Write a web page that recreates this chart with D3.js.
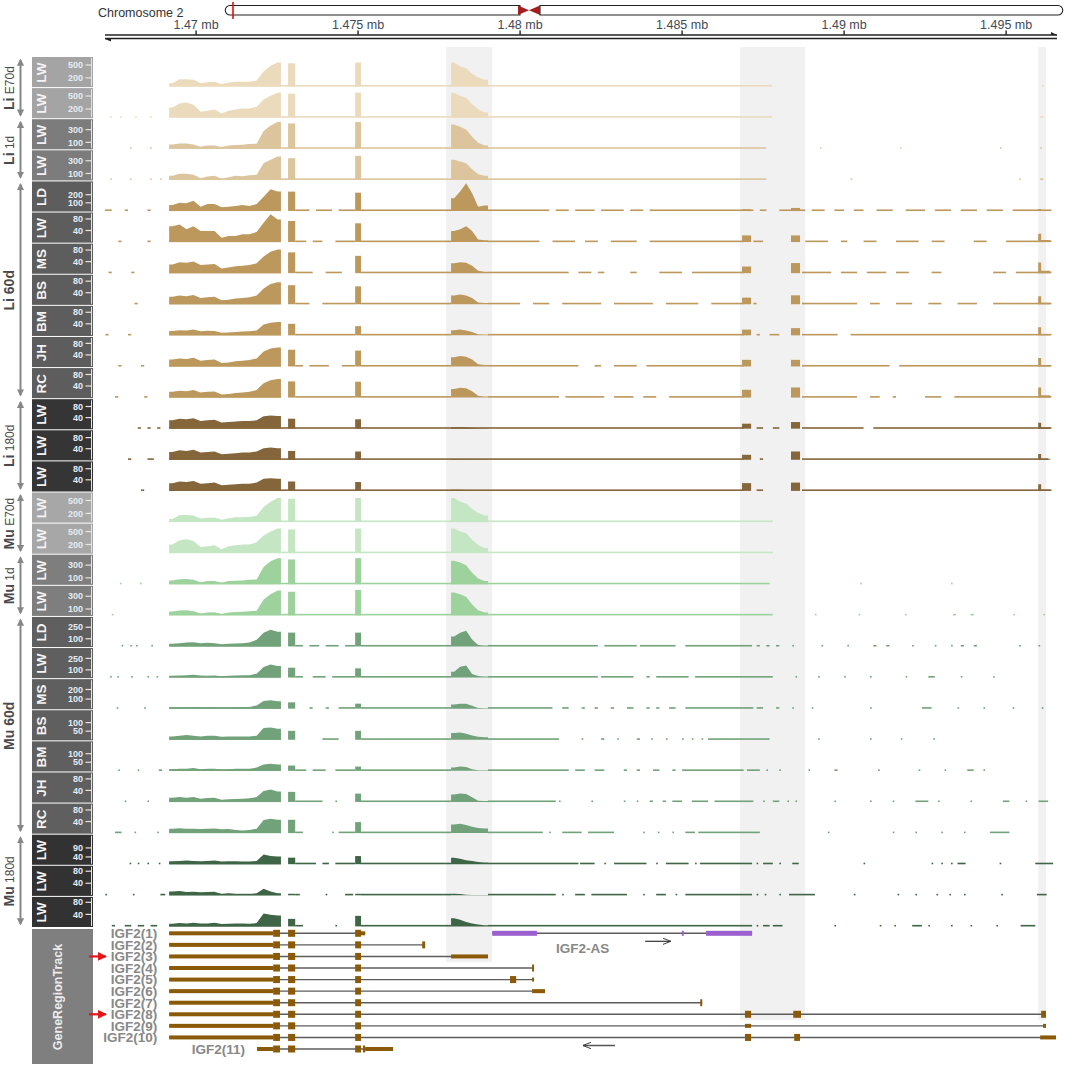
<!DOCTYPE html>
<html>
<head>
<meta charset="utf-8">
<script src="https://cdn.jsdelivr.net/npm/d3@7"></script>
<style>
  body { margin: 0; background: #fff; }
  svg { display: block; font-family: "Liberation Sans", Arial, sans-serif; }
</style>
</head>
<body>
<svg id="chart" width="1065" height="1073"></svg>
<script>
// ---- data (positions in kb on chromosome 2) ----
const viewRange = [1467.19, 1496.57];
const axisTicks = [1470, 1475, 1480, 1485, 1490, 1495];
const axisLabels = ["1.47 mb", "1.475 mb", "1.48 mb", "1.485 mb", "1.49 mb", "1.495 mb"];
const highlights = [[1477.72, 1479.14], [1486.79, 1488.80], [1495.99, 1496.23]];

const groupNames = [["Li", "E70d"], ["Li", "1d"], ["Li", "60d"], ["Li", "180d"],
                    ["Mu", "E70d"], ["Mu", "1d"], ["Mu", "60d"], ["Mu", "180d"]];
const trackLabels = ["LW","LW","LW","LW","LD","LW","MS","BS","BM","JH","RC","LW","LW","LW",
                     "LW","LW","LW","LW","LD","LW","MS","BS","BM","JH","RC","LW","LW","LW"];
const trackGroup = [0,0,1,1,2,2,2,2,2,2,2,3,3,3,4,4,5,5,6,6,6,6,6,6,6,7,7,7];
const trackMax = [650,650,440,440,345,97,97,97,97,97,97,101,101,101,
                  650,650,440,440,365,365,292,163,163,97,97,155,93,93];
const trackTicks = [[500,200],[500,200],[300,100],[300,100],[200,100],[80,40],[80,40],[80,40],[80,40],[80,40],[80,40],[80,40],[80,40],[80,40],
                    [500,200],[500,200],[300,100],[300,100],[250,100],[250,100],[200,100],[100,50],[100,50],[80,40],[80,40],[90,40],[80,40],[80,40]];

// coverage bins
const exon1Edges = [1469.17,1469.38,1469.60,1469.81,1470.03,1470.25,1470.46,1470.68,1470.90,
                    1471.11,1471.33,1471.54,1471.76,1471.98,1472.19,1472.41,1472.62];
const exon2Edges = [1472.84, 1473.06];
const exon3Edges = [1474.91, 1475.09];
const exon4Edges = [1477.87,1478.06,1478.24,1478.43,1478.61,1478.80,1479.01];
const exonEEdges = [1486.85, 1487.13];
const exonFEdges = [1488.36, 1488.64];
const exonGEdges = [1495.99, 1496.08, 1496.36];

const covExon1 = [
  [77,170,170,155,77,100,108,54,92,108,108,108,140,348,480,557],
  [232,325,348,300,139,162,186,93,162,186,209,209,255,418,510,580],
  [68,84,84,68,31,52,52,26,52,58,63,73,78,278,366,419],
  [63,94,94,78,26,52,63,16,42,63,58,73,78,262,314,366],
  [74,102,94,127,53,86,86,45,53,62,74,62,86,176,266,238],
  [55,61,44,55,38,38,38,15,21,21,27,27,35,67,96,78],
  [30,38,36,40,28,30,32,16,20,24,26,28,34,58,74,82],
  [26,30,28,32,22,24,26,14,16,20,22,24,30,55,70,76],
  [15,18,17,20,14,16,15,9,10,12,13,14,17,38,44,46],
  [24,28,26,30,20,22,24,12,14,18,20,22,28,52,62,66],
  [20,24,22,26,18,20,21,11,12,16,18,20,26,50,60,64],
  [30,36,34,38,28,30,32,22,24,26,28,28,30,45,48,46],
  [28,34,32,36,26,28,30,20,22,24,26,26,30,42,44,42],
  [28,34,32,36,26,28,30,20,22,24,26,26,30,44,46,44],
  [70,160,165,150,80,100,105,55,90,110,110,115,145,350,470,560],
  [200,300,320,280,140,160,180,90,160,180,200,200,250,410,500,570],
  [60,80,82,70,30,50,50,25,50,56,60,70,76,270,360,410],
  [60,75,78,66,28,45,48,22,45,52,58,66,72,250,330,390],
  [35,42,51,55,42,47,42,29,35,38,42,51,86,180,218,192],
  [22,26,29,35,26,22,26,17,22,26,29,29,51,137,171,150],
  [14,14,14,18,14,14,18,10,14,14,18,18,34,80,87,76],
  [19,23,27,23,19,23,23,17,19,19,19,19,23,68,71,64],
  [10,12,13,16,10,12,12,8,10,12,13,13,19,37,41,37],
  [15,17,15,17,11,14,15,8,9,10,11,13,17,38,43,36],
  [15,17,15,15,14,15,16,13,14,11,9,11,15,45,50,46],
  [16,18,20,18,16,18,20,15,16,16,15,15,18,54,45,43],
  [13,14,11,12,10,11,12,4,7,4,3,3,7,22,13,7],
  [9,11,10,12,10,10,12,8,9,10,10,9,11,43,39,36]
];
const covExon2 = [540,557,397,340,238,73,72,66,40,58,56,36,32,34,540,550,390,370,180,128,66,52,31,35,46,36,5,25];
const covExon3 = [557,580,419,377,225,65,60,62,32,55,55,34,30,32,560,570,410,400,180,120,52,52,25,29,38,45,5,35];
const covExon4 = [
  [557,464,425,294,209,155], [580,503,464,309,193,116], [382,345,303,188,94,52], [314,288,262,168,89,63],
  [156,238,340,217,53,66], [38,44,55,38,9,6], [34,38,36,26,8,5], [30,34,30,22,6,4],
  [18,20,17,12,4,3], [32,36,34,24,8,5], [30,34,32,22,6,4], [5,6,5,3,2,1],
  [3,3,2,2,1,1], [4,4,3,2,1,1], [560,470,430,300,210,150], [570,500,460,310,190,120],
  [370,340,300,180,90,50], [360,330,290,170,80,45], [128,180,205,90,19,13], [77,141,158,47,19,13],
  [42,52,50,30,8,5], [40,42,35,25,17,15], [20,25,22,10,4,3], [26,29,28,16,4,3],
  [30,32,28,22,18,16], [36,30,22,18,12,10], [5,4,2,1,1,1], [27,22,15,10,6,4]
];
// [exon E, exon F, exon G peak, exon G tail]
const covRight = [
  [0,0,0,0],[0,0,0,0],[0,0,0,0],[0,0,0,0],
  [20,37,25,5],[23,23,29,7],[23,35,37,8],[23,31,28,5],[20,25,28,5],[23,23,29,5],[27,35,35,8],
  [18,24,21,4],[18,30,21,4],[28,30,24,5],
  [0,0,0,0],[0,0,0,0],[0,0,0,0],[0,0,0,0],[0,0,0,0],[0,0,0,0],[0,0,0,0],
  [0,0,0,0],[0,0,0,0],[0,0,0,0],[0,0,0,0],[0,0,0,0],[0,0,0,0],[0,0,0,0]
];
// stretches with only a few reads (drawn as a thin baseline)
const lowCov = [
  [[1469.17,1487.78],[1496.1,1496.16]],
  [[1467.35,1467.4],[1467.65,1467.7],[1468.12,1468.17],[1468.58,1468.63],[1469.17,1487.78],[1496.05,1496.15]],
  [[1467.96,1468.01],[1468.58,1468.63],[1469.17,1487.6],[1489.26,1489.3],[1491.73,1491.77],[1494.81,1494.86],[1496.05,1496.1]],
  [[1467.35,1467.4],[1467.96,1468.01],[1468.58,1468.63],[1468.89,1468.94],[1469.17,1487.6],[1490.2,1490.25],[1495.4,1495.45],[1496.05,1496.15]],
  [[1467.19,1467.4],[1467.8,1467.9],[1468.5,1468.6],[1469.17,1472.62],[1473.06,1473.5],[1473.7,1474.2],[1474.4,1474.91],[1475.09,1477.87],
   [1479.01,1480.9],[1481.1,1481.5],[1481.7,1482.3],[1482.5,1483.2],[1483.4,1483.8],[1484.0,1487.2],[1487.4,1487.6],[1488.0,1488.8],
   [1489.0,1489.4],[1489.7,1490.0],[1490.3,1490.6],[1491.0,1491.5],[1491.9,1492.5],[1492.8,1493.3],[1493.6,1494.1],[1494.4,1494.9],[1495.2,1496.4]],
  [[1467.6,1467.7],[1468.5,1468.6],[1469.17,1472.62],[1473.06,1473.4],[1473.6,1473.9],[1474.3,1474.91],[1475.09,1477.87],[1479.01,1480.6],
   [1481.0,1481.7],[1482.0,1482.4],[1482.8,1483.6],[1484.0,1486.9],[1487.2,1487.5],[1488.8,1489.5],[1489.9,1490.1],[1490.6,1491.0],
   [1491.6,1492.3],[1492.7,1493.1],[1494.0,1494.4],[1495.0,1496.4]],
  [[1467.3,1467.4],[1468.0,1468.1],[1469.17,1472.62],[1473.06,1473.6],[1474.0,1474.5],[1475.09,1477.87],[1479.01,1481.5],[1481.8,1482.2],
   [1482.4,1482.6],[1483.4,1483.6],[1484.3,1485.0],[1485.3,1486.9],[1488.7,1489.6],[1489.9,1490.4],[1490.7,1491.3],[1491.6,1492.0],
   [1492.7,1493.0],[1494.6,1495.0],[1495.3,1496.4]],
  [[1468.1,1468.2],[1469.17,1472.62],[1473.06,1473.5],[1473.9,1474.91],[1475.09,1477.87],[1479.01,1480.0],[1480.4,1480.9],[1481.3,1482.5],
   [1482.9,1484.1],[1484.5,1485.5],[1485.9,1486.9],[1487.2,1487.3],[1488.7,1490.4],[1490.8,1491.1],[1491.6,1492.1],[1492.6,1493.0],
   [1493.5,1494.1],[1494.6,1496.4]],
  [[1467.2,1467.3],[1467.9,1468.0],[1469.17,1472.62],[1473.06,1474.91],[1475.09,1477.87],[1479.01,1486.9],[1487.3,1487.4],[1487.7,1488.0],
   [1488.7,1489.8],[1490.2,1496.4]],
  [[1467.6,1467.7],[1468.3,1468.4],[1469.17,1472.62],[1473.06,1473.3],[1473.5,1474.1],[1474.5,1474.91],[1475.09,1477.87],[1479.01,1481.8],
   [1482.3,1482.5],[1482.9,1483.6],[1483.9,1486.9],[1488.7,1491.4],[1491.7,1496.4]],
  [[1467.5,1467.6],[1468.4,1468.5],[1469.17,1472.62],[1473.06,1474.91],[1475.09,1477.87],[1479.01,1481.2],[1481.4,1482.6],[1482.9,1483.5],
   [1483.8,1484.2],[1484.6,1486.9],[1488.7,1490.4],[1490.8,1491.1],[1491.5,1491.6],[1492.5,1493.0],[1493.4,1496.4]],
  [[1468.2,1468.3],[1468.5,1468.6],[1468.8,1468.9],[1469.17,1486.9],[1487.3,1487.5],[1487.8,1488.0],[1488.7,1490.6],[1490.9,1496.4]],
  [[1467.9,1468.0],[1468.5,1468.7],[1469.17,1486.9],[1487.4,1487.5],[1488.7,1496.3]],
  [[1468.3,1468.4],[1469.17,1486.9],[1487.3,1487.5],[1488.7,1496.4]],
  [[1469.17,1487.8]],
  [[1469.17,1487.8]],
  [[1467.65,1467.7],[1468.27,1468.32],[1469.17,1487.7],[1490.5,1490.55],[1493.3,1493.35]],
  [[1467.4,1467.45],[1469.17,1487.8],[1489.1,1489.15],[1490.45,1490.5],[1491.88,1491.93],[1493.36,1493.45],[1493.9,1494.0],[1495.22,1495.27],[1496.15,1496.2]],
  [[1467.7,1467.75],[1467.97,1468.02],[1468.15,1468.2],[1468.62,1468.67],[1469.17,1472.62],[1473.06,1473.3],[1473.5,1473.8],[1474.0,1474.4],
   [1474.6,1474.91],[1475.09,1477.87],[1479.01,1482.4],[1482.6,1483.6],[1483.7,1484.8],[1485.1,1487.16],[1487.3,1487.4],[1487.6,1487.7],
   [1487.9,1488.0],[1488.4,1488.45],[1489.3,1489.35],[1490.1,1490.15],[1490.9,1491.0],[1491.3,1491.4],[1492.1,1492.15],[1492.8,1492.85],
   [1493.3,1493.35],[1493.6,1493.7],[1494.0,1494.1],[1495.4,1495.45],[1496.0,1496.05]],
  [[1467.35,1467.4],[1467.57,1467.62],[1468.0,1468.05],[1468.5,1468.55],[1468.78,1468.83],[1469.17,1472.62],[1473.06,1473.3],[1473.6,1474.0],
   [1474.2,1474.91],[1475.09,1477.87],[1479.01,1482.4],[1482.5,1483.5],[1483.9,1484.0],[1484.2,1485.2],[1485.4,1487.8],[1488.5,1488.55],
   [1489.2,1489.25],[1490.0,1490.05],[1490.8,1490.85],[1491.9,1491.95],[1492.6,1492.8],[1493.6,1493.65],[1494.6,1494.65]],
  [[1467.55,1467.6],[1468.4,1468.45],[1469.17,1472.62],[1473.5,1473.6],[1474.0,1474.1],[1474.4,1474.91],[1475.09,1477.87],[1479.01,1481.0],
   [1481.3,1481.5],[1481.9,1482.0],[1482.3,1482.4],[1482.8,1482.9],[1483.3,1483.5],[1483.9,1484.0],[1484.2,1484.3],[1484.6,1484.8],
   [1485.1,1487.2],[1487.3,1487.5],[1487.9,1488.0],[1488.4,1488.45],[1489.0,1489.05],[1490.8,1490.85],[1492.4,1492.7],[1493.5,1493.55],
   [1494.3,1494.35],[1495.2,1495.25],[1496.1,1496.15]],
  [[1469.17,1472.62],[1473.9,1474.4],[1475.09,1477.87],[1479.01,1481.2],[1481.9,1481.95],[1482.5,1482.6],[1483.0,1483.05],[1483.6,1483.7],
   [1484.05,1484.1],[1484.5,1484.55],[1485.0,1485.05],[1485.3,1485.35],[1485.6,1485.65],[1485.8,1487.7],[1489.2,1489.25],[1490.8,1490.85],
   [1491.75,1491.8],[1492.75,1492.8]],
  [[1467.6,1467.65],[1468.2,1468.25],[1468.85,1468.95],[1469.17,1472.62],[1473.06,1473.4],[1473.6,1474.0],[1474.3,1474.91],[1475.09,1477.87],
   [1479.01,1481.5],[1481.7,1482.0],[1482.3,1482.6],[1483.2,1483.3],[1483.6,1483.7],[1484.1,1484.3],[1484.7,1484.8],[1485.0,1486.9],
   [1487.0,1487.4],[1487.6,1487.65],[1488.0,1488.05],[1488.9,1488.95],[1489.7,1489.8],[1491.05,1491.1],[1492.3,1492.35],[1493.1,1493.15],
   [1493.8,1494.0],[1494.3,1494.35]],
  [[1467.8,1467.85],[1468.5,1468.55],[1469.17,1472.62],[1473.06,1473.9],[1474.3,1474.35],[1475.09,1477.87],[1479.01,1481.1],[1481.2,1481.25],
   [1482.2,1482.25],[1483.2,1483.25],[1483.6,1483.65],[1484.0,1484.1],[1484.4,1484.5],[1484.7,1485.0],[1485.3,1485.8],[1486.0,1487.2],
   [1487.5,1487.55],[1487.8,1488.0],[1488.25,1488.3],[1488.5,1488.55],[1489.7,1489.75],[1490.8,1490.85],[1491.5,1491.55],[1492.2,1492.6],
   [1492.9,1492.95],[1493.9,1493.95],[1494.9,1495.1],[1495.6,1495.65],[1496.0,1496.3]],
  [[1467.5,1467.7],[1468.1,1468.15],[1468.8,1468.85],[1469.17,1472.62],[1473.06,1473.3],[1474.2,1474.25],[1474.4,1474.91],[1475.09,1477.87],
   [1479.01,1480.7],[1480.9,1480.95],[1481.3,1481.9],[1482.1,1482.9],[1483.8,1483.85],[1484.25,1484.3],[1484.7,1484.75],[1485.1,1485.4],
   [1485.5,1487.4],[1489.5,1489.55],[1491.5,1491.55],[1492.2,1492.25],[1493.0,1493.05],[1493.7,1493.75],[1494.5,1495.1]],
  [[1467.95,1468.0],[1468.2,1468.25],[1468.5,1468.55],[1468.85,1468.9],[1469.17,1472.62],[1473.06,1473.7],[1473.9,1474.1],[1474.3,1474.91],
   [1475.09,1477.87],[1479.01,1481.8],[1481.85,1482.3],[1482.6,1482.65],[1482.9,1483.9],[1484.2,1484.25],[1484.5,1485.2],[1485.4,1485.45],
   [1485.55,1487.16],[1487.3,1487.35],[1487.5,1487.8],[1488.0,1488.05],[1488.4,1488.6],[1490.6,1490.65],[1492.7,1492.75],[1493.0,1493.05],
   [1493.3,1493.35],[1493.5,1493.75],[1494.8,1494.85],[1495.9,1496.45]],
  [[1467.2,1467.25],[1468.05,1468.1],[1468.9,1469.05],[1469.17,1472.62],[1473.06,1473.2],[1474.0,1474.05],[1474.6,1474.85],[1475.09,1477.87],
   [1479.01,1481.1],[1481.3,1481.35],[1481.7,1482.0],[1482.2,1483.3],[1483.8,1483.85],[1484.2,1484.5],[1484.8,1484.85],[1485.1,1487.16],
   [1487.3,1487.35],[1487.55,1487.6],[1488.0,1488.05],[1488.3,1489.1],[1490.3,1490.35],[1491.65,1491.7],[1492.2,1492.25],[1492.85,1492.9],
   [1493.25,1493.3],[1493.7,1493.75],[1494.85,1494.9],[1495.95,1496.25]],
  [[1467.4,1467.5],[1467.8,1468.0],[1468.2,1468.4],[1468.6,1468.8],[1469.17,1472.62],[1473.06,1473.3],[1474.3,1474.35],[1475.09,1477.87],
   [1479.01,1487.16],[1487.3,1487.35],[1487.5,1487.7],[1487.8,1488.1],[1489.7,1489.75],[1491.1,1491.15],[1491.55,1491.6],[1492.1,1492.4],
   [1492.6,1492.65],[1493.3,1493.35],[1493.9,1493.95],[1494.7,1494.75],[1495.45,1495.9]]
];

// gene models: [start, end, kind] kind u = UTR, c = coding exon
const geneNames = ["IGF2(1)","IGF2(2)","IGF2(3)","IGF2(4)","IGF2(5)","IGF2(6)","IGF2(7)","IGF2(8)","IGF2(9)","IGF2(10)","IGF2(11)"];
const geneParts = [
  [[1469.17,1472.38,"u"],[1472.38,1472.59,"c"],[1472.84,1473.06,"c"],[1474.91,1475.09,"c"],[1475.09,1475.22,"u"]],
  [[1469.17,1472.38,"u"],[1472.38,1472.59,"c"],[1472.84,1473.06,"c"],[1474.91,1475.09,"c"],[1476.98,1477.07,"c"]],
  [[1469.17,1472.38,"u"],[1472.38,1472.59,"c"],[1472.84,1473.06,"c"],[1474.91,1475.09,"c"],[1477.87,1479.01,"u"]],
  [[1469.17,1472.38,"u"],[1472.38,1472.59,"c"],[1472.84,1473.06,"c"],[1474.91,1475.09,"c"],[1480.37,1480.43,"c"]],
  [[1469.17,1472.38,"u"],[1472.38,1472.59,"c"],[1472.84,1473.06,"c"],[1474.91,1475.09,"c"],[1479.69,1479.88,"c"],[1480.37,1480.43,"u"]],
  [[1469.17,1472.38,"u"],[1472.38,1472.59,"c"],[1472.84,1473.06,"c"],[1474.91,1475.09,"c"],[1480.37,1480.77,"u"]],
  [[1469.17,1472.38,"u"],[1472.38,1472.59,"c"],[1472.84,1473.06,"c"],[1474.91,1475.09,"c"],[1485.56,1485.62,"c"]],
  [[1469.17,1472.38,"u"],[1472.38,1472.59,"c"],[1472.84,1473.06,"c"],[1474.91,1475.09,"c"],[1486.94,1487.13,"c"],[1488.43,1488.67,"c"],[1496.08,1496.23,"c"]],
  [[1469.17,1472.38,"u"],[1472.38,1472.59,"c"],[1472.84,1473.06,"c"],[1474.91,1475.09,"c"],[1486.94,1487.13,"u"],[1496.14,1496.23,"u"]],
  [[1469.17,1472.38,"u"],[1472.38,1472.59,"c"],[1472.84,1473.06,"c"],[1474.91,1475.09,"c"],[1486.94,1487.13,"c"],[1488.46,1488.64,"c"],[1496.05,1496.54,"u"]],
  [[1471.88,1472.38,"u"],[1472.38,1472.59,"c"],[1472.84,1473.06,"c"],[1474.91,1475.09,"c"],[1475.15,1475.22,"c"],[1475.22,1476.08,"u"]]
];
const antisenseName = "IGF2-AS";
const antisenseParts = [[1479.14,1480.52],[1484.99,1485.05],[1485.74,1487.16]];
const markedGenes = ["IGF2(3)", "IGF2(8)"];

// ---- layout & style ----
const svg = d3.select("#chart");
const dataLeft = 105, dataRight = 1057;
const groupFill = ["#ebdbbc","#dcc59c","#bc985c","#85663b","#c4e6c2","#9dd29c","#71a279","#3e6545"];
const groupPanel = ["#a4a4a4","#7c7c7c","#5d5d5d","#353535","#a7a7a7","#7e7e7e","#5f5f5f","#323232"];
const geneBrown = "#8a5a08";

const x = d3.scaleLinear().domain(viewRange).range([dataLeft, dataRight]);
const band = d3.scaleBand().domain(d3.range(trackLabels.length)).range([57, 928]);

const defs = svg.append("defs");
defs.append("marker").attr("id", "grpArrow")
  .attr("viewBox", "0 0 10 10").attr("refX", 8).attr("refY", 5)
  .attr("markerWidth", 3.6).attr("markerHeight", 3.6)
  .attr("orient", "auto-start-reverse")
  .append("path").attr("d", "M0,0 L10,5 L0,10 z").attr("fill", "#878787");
defs.append("marker").attr("id", "redArrow")
  .attr("viewBox", "0 0 10 10").attr("refX", 9).attr("refY", 5)
  .attr("markerWidth", 4).attr("markerHeight", 4)
  .attr("orient", "auto")
  .append("path").attr("d", "M0,0 L10,5 L0,10 z").attr("fill", "#e3161b");
defs.append("marker").attr("id", "openArrow")
  .attr("viewBox", "0 0 10 10").attr("refX", 10).attr("refY", 5)
  .attr("markerWidth", 8).attr("markerHeight", 8).attr("markerUnits", "userSpaceOnUse")
  .attr("orient", "auto")
  .append("path").attr("d", "M0,1 L10,5 L0,9").attr("fill", "none").attr("stroke", "#333").attr("stroke-width", 1.2);

// ---- ideogram ----
const ideo = svg.append("g");
ideo.append("text").attr("x", 98).attr("y", 17).attr("font-size", 12.5).attr("fill", "#333")
  .text("Chromosome 2");
ideo.append("path")
  .attr("d", "M230,5.5 L520,5.5 L520,15 L230,15 A4.75,4.75 0 0 1 230,5.5 Z")
  .attr("fill", "#fff").attr("stroke", "#222").attr("stroke-width", 1.1);
ideo.append("path")
  .attr("d", "M540,5.5 L1058,5.5 A4.75,4.75 0 0 1 1058,15 L540,15 Z")
  .attr("fill", "#fff").attr("stroke", "#222").attr("stroke-width", 1.1);
ideo.append("path").attr("d", "M518,5.5 L529,10.25 L518,15 Z").attr("fill", "#a31f1f");
ideo.append("path").attr("d", "M540,5.5 L529,10.25 L540,15 Z").attr("fill", "#a31f1f");
ideo.append("line").attr("x1", 233).attr("x2", 233).attr("y1", 2).attr("y2", 19)
  .attr("stroke", "#e01010").attr("stroke-width", 1.6);

// ---- genome axis ----
const ax = svg.append("g");
ax.append("line").attr("x1", dataLeft).attr("x2", dataRight).attr("y1", 35).attr("y2", 35)
  .attr("stroke", "#222").attr("stroke-width", 1.5);
ax.append("line").attr("x1", dataLeft).attr("x2", dataRight).attr("y1", 38.5).attr("y2", 38.5)
  .attr("stroke", "#222").attr("stroke-width", 1.5);
ax.append("path").attr("d", `M${dataLeft},39 L${dataLeft + 6},41.5 L${dataLeft + 6},38 Z`).attr("fill", "#222");
ax.append("path").attr("d", `M${dataRight},35 L${dataRight - 6},32 L${dataRight - 6},35 Z`).attr("fill", "#222");
ax.selectAll(".tk").data(axisTicks).join("line")
  .attr("x1", d => x(d)).attr("x2", d => x(d)).attr("y1", 30.5).attr("y2", 35)
  .attr("stroke", "#222").attr("stroke-width", 1.4);
ax.selectAll(".tl").data(axisTicks).join("text")
  .attr("x", d => x(d)).attr("y", 29).attr("text-anchor", "middle")
  .attr("font-size", 12.5).attr("fill", "#3f4a57")
  .text((d, i) => axisLabels[i]);

// ---- highlight columns ----
const hlBottom = [962, 1020, 1020];
svg.append("g").selectAll("rect").data(highlights).join("rect")
  .attr("x", d => x(d[0])).attr("width", d => x(d[1]) - x(d[0]))
  .attr("y", 47).attr("height", (d, i) => hlBottom[i] - 47)
  .attr("fill", "#f1f1f1");

// ---- group labels with arrows ----
const groups = groupNames.map((g, gi) => {
  const idx = trackGroup.map((t, i) => t === gi ? i : -1).filter(i => i >= 0);
  return { name: g, y0: band(idx[0]), y1: band(idx[idx.length - 1]) + band.bandwidth() };
});
const gl = svg.append("g");
groups.forEach(g => {
  gl.append("line").attr("x1", 20.5).attr("x2", 20.5).attr("y1", g.y0 + 3).attr("y2", g.y1 - 4)
    .attr("stroke", "#878787").attr("stroke-width", 2)
    .attr("marker-start", "url(#grpArrow)").attr("marker-end", "url(#grpArrow)");
  const cy = (g.y0 + g.y1) / 2;
  const t = gl.append("text").attr("transform", `translate(14,${cy}) rotate(-90)`)
    .attr("text-anchor", "middle").attr("fill", "#4a4a4a");
  t.append("tspan").attr("font-weight", "bold").attr("font-size", 14).text(g.name[0]);
  const big = g.name[1] === "60d";
  t.append("tspan").attr("font-weight", big ? "bold" : "normal").attr("font-size", big ? 14 : 12)
    .text(" " + g.name[1]);
});

// ---- coverage tracks ----
const area = d3.area().curve(d3.curveLinear);
trackLabels.forEach((lab, i) => {
  const gi = trackGroup[i];
  const top = band(i), h = band.bandwidth();
  const base = top + h - 1.6;
  const ys = d3.scaleLinear().domain([0, trackMax[i]]).range([base, base - 28]);
  const g = svg.append("g");

  // title panel
  g.append("rect").attr("x", 32).attr("y", top).attr("width", 61).attr("height", h - 1)
    .attr("fill", groupPanel[gi]);
  g.append("text").attr("transform", `translate(45.5,${top + h / 2}) rotate(-90)`)
    .attr("text-anchor", "middle").attr("font-size", 13.5).attr("font-weight", "bold")
    .attr("fill", "#f4f4f4").text(lab);
  g.append("line").attr("x1", 91.5).attr("x2", 91.5).attr("y1", top + 1).attr("y2", top + h - 2)
    .attr("stroke", "#e2e2e2").attr("stroke-width", 1);
  trackTicks[i].forEach(v => {
    g.append("line").attr("x1", 85.5).attr("x2", 91.5).attr("y1", ys(v)).attr("y2", ys(v))
      .attr("stroke", "#e6e6e6").attr("stroke-width", 1.2);
    g.append("text").attr("x", 83).attr("y", ys(v)).attr("dy", "0.35em")
      .attr("text-anchor", "end").attr("font-size", 9).attr("font-weight", "bold")
      .attr("fill", "#e4ebf4").text(v);
  });

  // low-coverage baseline
  g.selectAll(".low").data(lowCov[i]).join("rect")
    .attr("x", d => x(d[0])).attr("width", d => Math.max(1.2, x(d[1]) - x(d[0])))
    .attr("y", base - 1.5).attr("height", 1.6)
    .attr("fill", groupFill[gi]);

  // coverage blocks: single bins as flat blocks, longer runs through bin midpoints
  const blocks = [
    [exon1Edges, covExon1[i]], [exon2Edges, [covExon2[i]]], [exon3Edges, [covExon3[i]]],
    [exon4Edges, covExon4[i]], [exonEEdges, [covRight[i][0]]], [exonFEdges, [covRight[i][1]]],
    [exonGEdges, [covRight[i][2], covRight[i][3]]]
  ];
  blocks.forEach(([edges, vals]) => {
    if (d3.max(vals) <= 0) return;
    let pts;
    if (vals.length > 2) {
      pts = [[edges[0], vals[0]]];
      vals.forEach((v, k) => pts.push([(edges[k] + edges[k + 1]) / 2, v]));
      pts.push([edges[edges.length - 1], vals[vals.length - 1]]);
    } else {
      pts = [];
      vals.forEach((v, k) => { pts.push([edges[k], v]); pts.push([edges[k + 1], v]); });
    }
    g.append("path")
      .attr("d", area.x(d => x(d[0])).y0(base).y1(d => ys(d[1]))(pts))
      .attr("fill", groupFill[gi]);
  });
});

// ---- gene region track ----
const gt = svg.append("g");
gt.append("rect").attr("x", 32).attr("y", 929).attr("width", 61).attr("height", 135).attr("fill", "#7f7f7f");
gt.append("text").attr("transform", "translate(62,997) rotate(-90)").attr("text-anchor", "middle")
  .attr("font-size", 12.5).attr("font-weight", "bold").attr("fill", "#ececec").text("GeneRegionTrack");

const rowY = r => 933.3 + r * 11.57;

geneNames.forEach((name, r) => {
  const parts = geneParts[r];
  const y = rowY(r);
  const s = d3.min(parts, p => p[0]), e = d3.max(parts, p => p[1]);
  gt.append("line").attr("x1", x(s)).attr("x2", x(e)).attr("y1", y).attr("y2", y)
    .attr("stroke", "#5c5c5c").attr("stroke-width", 1.4);
  gt.selectAll(null).data(parts).join("rect")
    .attr("x", d => x(d[0])).attr("width", d => Math.max(2, x(d[1]) - x(d[0])))
    .attr("y", d => d[2] === "c" ? y - 3.5 : y - 2).attr("height", d => d[2] === "c" ? 7 : 4)
    .attr("fill", geneBrown);
  gt.append("text").attr("x", x(s) - 12).attr("y", y).attr("dy", "0.36em")
    .attr("text-anchor", "end").attr("font-size", 13.5).attr("font-weight", "bold")
    .attr("fill", "#888").text(name);
  if (markedGenes.includes(name)) {
    gt.append("line").attr("x1", 89).attr("x2", 106).attr("y1", y).attr("y2", y)
      .attr("stroke", "#e3161b").attr("stroke-width", 2.2).attr("marker-end", "url(#redArrow)");
  }
});

// antisense transcript on the first row
const asY = rowY(0);
const asS = antisenseParts[0][0], asE = antisenseParts[antisenseParts.length - 1][1];
gt.append("line").attr("x1", x(asS)).attr("x2", x(asE)).attr("y1", asY).attr("y2", asY)
  .attr("stroke", "#5c5c5c").attr("stroke-width", 1.4);
gt.selectAll(null).data(antisenseParts).join("rect")
  .attr("x", d => x(d[0])).attr("width", d => Math.max(2, x(d[1]) - x(d[0])))
  .attr("y", asY - 2.5).attr("height", 5).attr("fill", "#9b5fd0");
gt.append("text").attr("x", x(1481.93)).attr("y", asY + 15).attr("dy", "0.36em")
  .attr("text-anchor", "middle").attr("font-size", 13.5).attr("font-weight", "bold")
  .attr("fill", "#888").text(antisenseName);

// strand arrows
gt.append("line").attr("x1", x(1483.86)).attr("x2", x(1484.65)).attr("y1", asY + 8).attr("y2", asY + 8)
  .attr("stroke", "#333").attr("stroke-width", 1.2).attr("marker-end", "url(#openArrow)");
gt.append("line").attr("x1", x(1482.93)).attr("x2", x(1481.94)).attr("y1", 1045.5).attr("y2", 1045.5)
  .attr("stroke", "#555").attr("stroke-width", 1.6).attr("marker-end", "url(#openArrow)");
</script>
</body>
</html>
